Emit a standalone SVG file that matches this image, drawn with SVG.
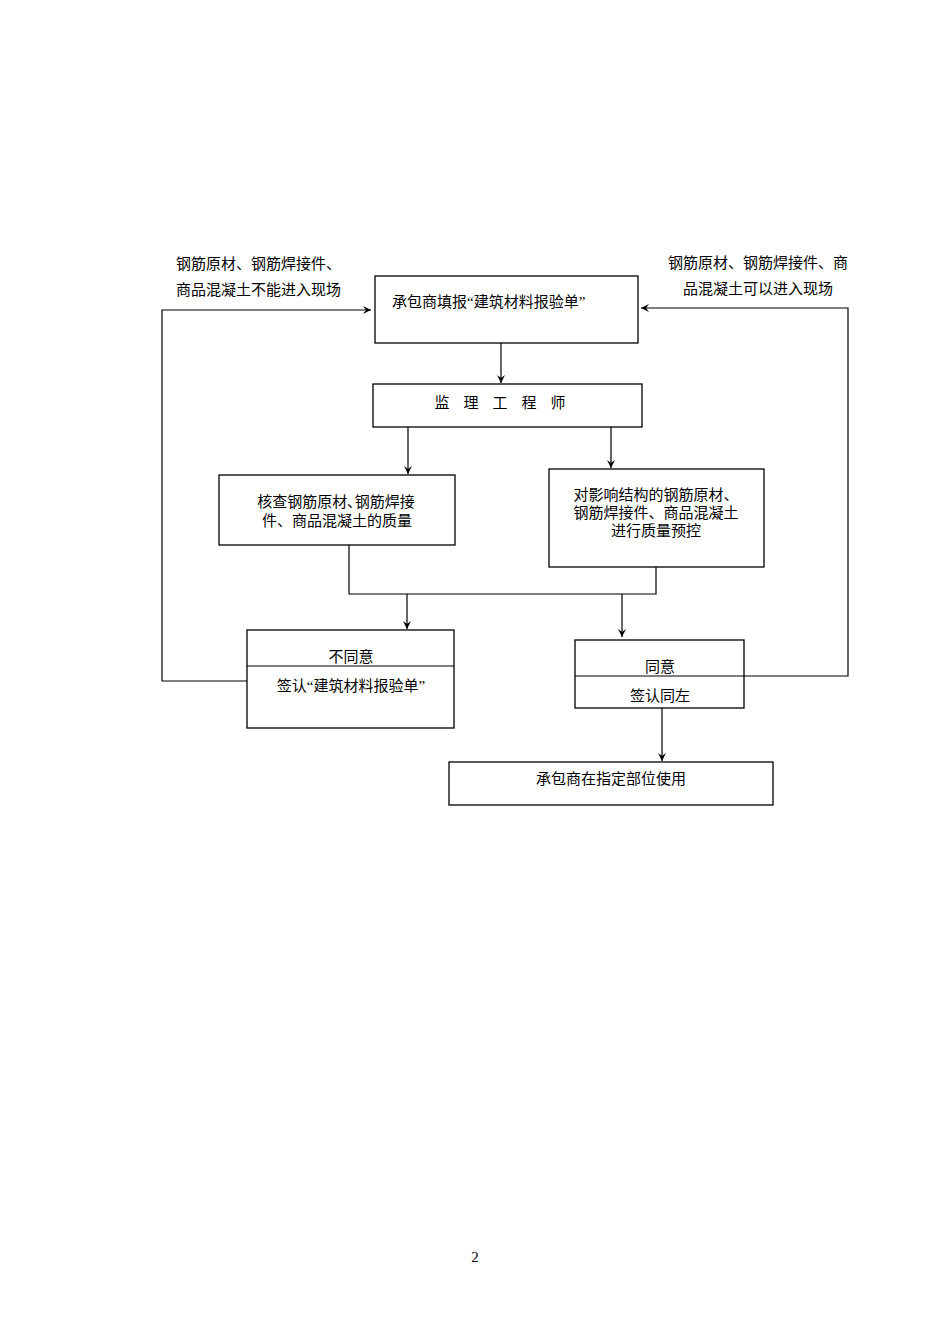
<svg xmlns="http://www.w3.org/2000/svg" width="950" height="1344" viewBox="0 0 950 1344">
<style>
text{font-family:"Liberation Serif","Noto Sans CJK SC",serif;font-size:15px;fill:#000}
.b{fill:#fff;stroke:#000;stroke-width:1.3}
.c{fill:none;stroke:#000;stroke-width:1.2}
.t{text-anchor:middle}
</style>
<defs><marker id="a" markerWidth="10" markerHeight="10" refX="8" refY="5" orient="auto" markerUnits="userSpaceOnUse"><path d="M0,1 L8,5 L0,9 L3,5 Z" fill="#000"/></marker></defs>
<rect width="950" height="1344" fill="#fff"/>
<g id="connectors" class="c">
<path d="M501,343 V383" marker-end="url(#a)"/>
<path d="M408,427 V474" marker-end="url(#a)"/>
<path d="M611,427 V468" marker-end="url(#a)"/>
<path d="M349,545 V594 H656 V567"/>
<path d="M407,594 V629" marker-end="url(#a)"/>
<path d="M622,594 V637" marker-end="url(#a)"/>
<path d="M662,708 V761" marker-end="url(#a)"/>
<path d="M247,681 H162 V310 H371" marker-end="url(#a)"/>
<path d="M744,676 H848 V308 H641" marker-end="url(#a)"/>
</g>
<g id="n1"><rect class="b" x="375" y="276" width="263" height="67"/><text x="392" y="307">承包商填报“建筑材料报验单”</text></g>
<g id="n2"><rect class="b" x="373" y="384" width="269" height="43"/><text x="507" y="408" class="t" letter-spacing="14">监理工程师</text></g>
<g id="n3"><rect class="b" x="219" y="475" width="236" height="70"/><text x="336" y="507" class="t">核查钢筋原材､钢筋焊接</text><text x="337" y="526" class="t">件、商品混凝土的质量</text></g>
<g id="n4"><rect class="b" x="549" y="469" width="215" height="98"/><text x="656" y="500" class="t">对影响结构的钢筋原材、</text><text x="656" y="518" class="t">钢筋焊接件、商品混凝土</text><text x="656" y="536" class="t">进行质量预控</text></g>
<g id="n5"><rect class="b" x="247" y="630" width="207" height="98"/><path class="c" d="M247,666 H454"/><text x="351" y="662" class="t">不同意</text><text x="351" y="691" class="t">签认“建筑材料报验单”</text></g>
<g id="n6"><rect class="b" x="575" y="640" width="169" height="68"/><path class="c" d="M575,676 H744"/><text x="660" y="672" class="t">同意</text><text x="660" y="701" class="t">签认同左</text></g>
<g id="n7"><rect class="b" x="449" y="762" width="324" height="43"/><text x="611" y="784" class="t">承包商在指定部位使用</text></g>
<g id="labels">
<text x="176" y="269" font-size="14">钢筋原材、钢筋焊接件、</text>
<text x="176" y="295" font-size="14">商品混凝土不能进入现场</text>
<text x="758" y="268" class="t" font-size="14">钢筋原材、钢筋焊接件、商</text>
<text x="758" y="294" class="t" font-size="14">品混凝土可以进入现场</text>
<text x="475" y="1262" class="t" font-size="14">2</text>
</g>
</svg>
